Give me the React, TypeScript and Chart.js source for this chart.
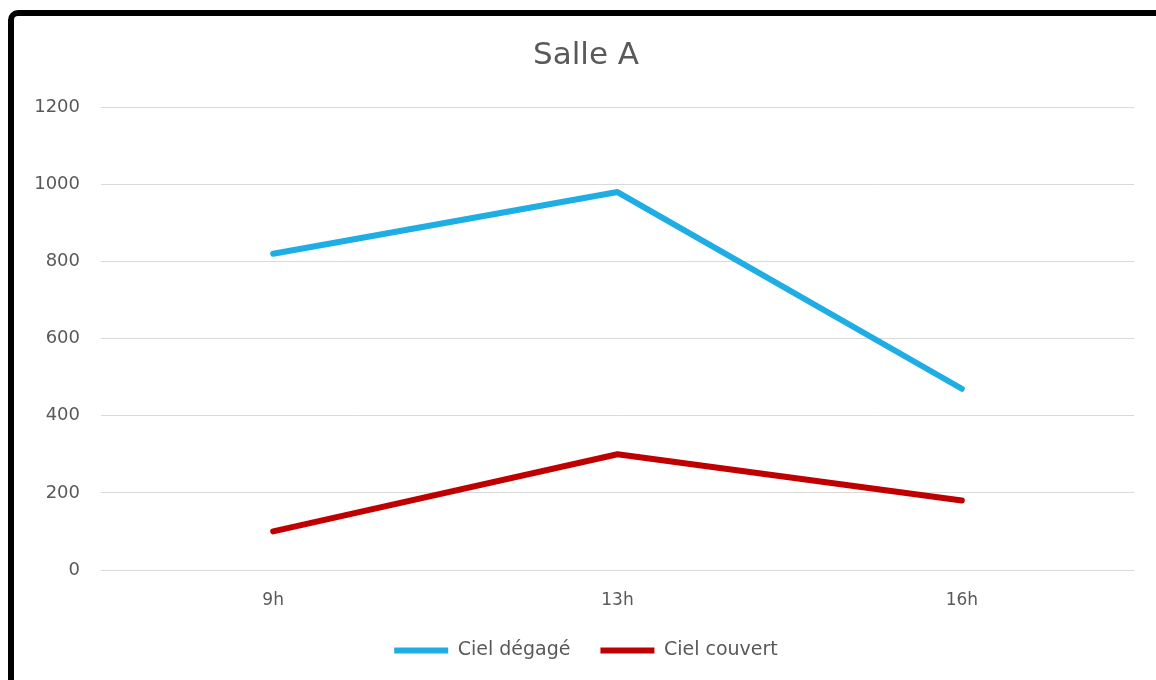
import React, { useEffect, useRef } from "react";
import { Chart, registerables } from "chart.js";

Chart.register(...registerables);

const hours = ["9h", "13h", "16h"];
const cielDegage = [820, 980, 470];
const cielCouvert = [100, 300, 180];
const yTicks = [0, 200, 400, 600, 800, 1000, 1200];

const TEXT = "#595959";
const FONT = "'DejaVu Sans', sans-serif";

export default function App() {
  const ref = useRef<HTMLCanvasElement | null>(null);

  useEffect(() => {
    if (!ref.current) return;
    const chart = new Chart(ref.current, {
      type: "line",
      data: {
        labels: hours,
        datasets: [
          {
            label: "Ciel dégagé",
            data: cielDegage,
            borderColor: "#1FAEE4",
            backgroundColor: "#1FAEE4",
            borderWidth: 6,
            borderCapStyle: "round",
            borderJoinStyle: "round",
            pointRadius: 0,
            tension: 0,
          },
          {
            label: "Ciel couvert",
            data: cielCouvert,
            borderColor: "#C00000",
            backgroundColor: "#C00000",
            borderWidth: 6,
            borderCapStyle: "round",
            borderJoinStyle: "round",
            pointRadius: 0,
            tension: 0,
          },
        ],
      },
      options: {
        animation: false,
        responsive: false,
        maintainAspectRatio: false,
        layout: { padding: { top: 21, right: 0, bottom: 26, left: 0 } },
        plugins: {
          title: {
            display: true,
            text: "Salle A",
            color: TEXT,
            font: { family: FONT, size: 31, weight: "normal", lineHeight: 1.2 },
            padding: { top: 0, bottom: 33 },
          },
          legend: {
            position: "bottom",
            labels: {
              color: TEXT,
              font: { family: FONT, size: 19 },
              usePointStyle: true,
              pointStyle: "line",
              pointStyleWidth: 54,
              padding: 30,
            },
          },
          tooltip: { enabled: false },
        },
        scales: {
          x: {
            offset: true,
            grid: { display: false, drawTicks: false },
            border: { display: false },
            ticks: { color: TEXT, font: { family: FONT, size: 17 }, padding: 20 },
            afterFit: (s: any) => {
              s.height = 41;
            },
          },
          y: {
            min: 0,
            max: 1200,
            afterBuildTicks: (s: any) => {
              s.ticks = yTicks.map((v) => ({ value: v }));
            },
            grid: { color: "#D9D9D9", lineWidth: 1, drawTicks: false },
            border: { display: false },
            ticks: {
              color: TEXT,
              font: { family: FONT, size: 18 },
              padding: 21,
              callback: (v: any) => String(v),
            },
            afterFit: (s: any) => {
              s.width = 87;
            },
          },
          // empty right-hand gutter beside the plot
          gutter: {
            position: "right",
            grid: { display: false, drawTicks: false },
            border: { display: false },
            ticks: { display: false },
            afterFit: (s: any) => {
              s.width = 24;
            },
          },
        },
      },
    });
    return () => chart.destroy();
  }, []);

  return (
    <div
      style={{
        position: "fixed",
        left: 0,
        top: 0,
        width: 1156,
        height: 680,
        overflow: "hidden",
        background: "#fff",
      }}
    >
      <div
        style={{
          position: "absolute",
          left: 8,
          top: 10,
          width: 1200,
          height: 720,
          border: "6px solid #000",
          borderRadius: 10,
          boxSizing: "border-box",
          background: "#fff",
        }}
      >
        <canvas
          ref={ref}
          width={1144}
          height={680}
          style={{ position: "absolute", left: 0, top: 0, width: 1144, height: 680 }}
        />
      </div>
    </div>
  );
}
